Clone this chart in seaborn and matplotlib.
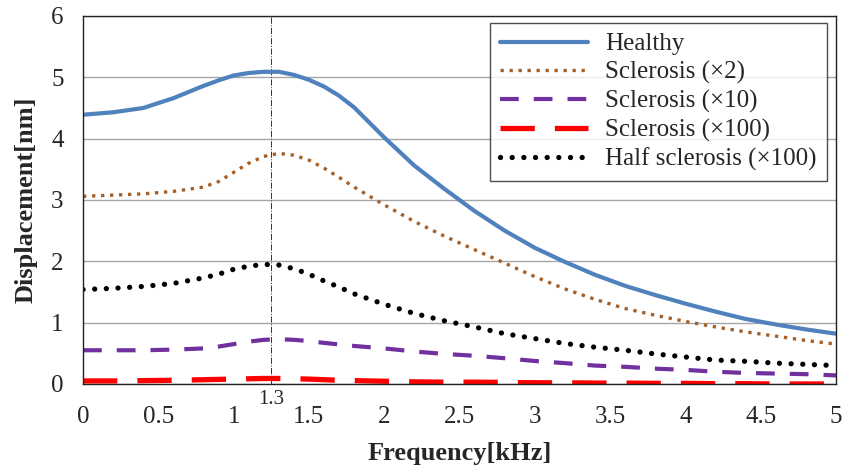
import numpy as np
import pandas as pd
import matplotlib
matplotlib.use("Agg")
import matplotlib.pyplot as plt
import seaborn as sns

# Frequency grid [kHz]
freq = [0.0, 0.2, 0.4, 0.6, 0.8, 0.9, 1.0, 1.1, 1.2, 1.3, 1.4, 1.5, 1.6, 1.7,
        1.8, 2.0, 2.2, 2.4, 2.6, 2.8, 3.0, 3.2, 3.4, 3.6, 3.8, 4.0, 4.2, 4.4,
        4.6, 4.8, 5.0]

# Displacement [nm]
healthy = [4.39, 4.43, 4.50, 4.66, 4.86, 4.95, 5.03, 5.07, 5.09, 5.09, 5.04,
           4.96, 4.85, 4.70, 4.51, 4.02, 3.56, 3.18, 2.82, 2.50, 2.22, 1.99,
           1.78, 1.60, 1.45, 1.31, 1.18, 1.06, 0.97, 0.89, 0.82]
scl_2 = [3.06, 3.08, 3.10, 3.14, 3.21, 3.30, 3.45, 3.60, 3.71, 3.76, 3.73,
         3.65, 3.52, 3.37, 3.21, 2.92, 2.65, 2.41, 2.19, 1.97, 1.75, 1.55,
         1.38, 1.23, 1.12, 1.02, 0.93, 0.85, 0.78, 0.71, 0.65]
scl_10 = [0.55, 0.55, 0.55, 0.56, 0.58, 0.61, 0.65, 0.69, 0.72, 0.73, 0.72,
          0.70, 0.67, 0.645, 0.62, 0.58, 0.53, 0.49, 0.46, 0.42, 0.375, 0.34,
          0.30, 0.28, 0.25, 0.23, 0.20, 0.18, 0.17, 0.16, 0.14]
scl_100 = [0.05, 0.05, 0.055, 0.06, 0.07, 0.075, 0.08, 0.085, 0.09, 0.09, 0.085,
           0.08, 0.07, 0.06, 0.055, 0.045, 0.035, 0.03, 0.03, 0.025, 0.02,
           0.02, 0.015, 0.015, 0.01, 0.01, 0.005, 0.005, 0.0, 0.0, 0.0]
half_scl = [1.54, 1.56, 1.59, 1.64, 1.73, 1.79, 1.87, 1.92, 1.95, 1.94, 1.88,
            1.79, 1.68, 1.58, 1.47, 1.30, 1.15, 1.03, 0.93, 0.82, 0.74, 0.66,
            0.60, 0.55, 0.49, 0.44, 0.39, 0.37, 0.34, 0.32, 0.30]

labels = ["Healthy", "Sclerosis (\u00d72)", "Sclerosis (\u00d710)",
          "Sclerosis (\u00d7100)", "Half sclerosis (\u00d7100)"]
series = [healthy, scl_2, scl_10, scl_100, half_scl]

peak_freq = 1.25
peak_label = "1.3"

x_ticks = [0, 0.5, 1, 1.5, 2, 2.5, 3, 3.5, 4, 4.5, 5]
x_ticklabels = ["0", "0.5", "1", "1.5", "2", "2.5", "3", "3.5", "4", "4.5", "5"]
y_ticks = [0, 1, 2, 3, 4, 5, 6]

sns.set_style("white")
plt.rcParams["font.family"] = ["Liberation Serif", "DejaVu Serif"]

styles = [
    dict(color="#4F81BD", lw=3.0, linestyle="-"),
    dict(color="#A5602A", lw=2.4, linestyle=(0, (1, 1.7))),
    dict(color="#7030A0", lw=3.0, linestyle=(0, (4.5, 3.6))),
    dict(color="#FF0000", lw=3.8, linestyle=(0, (6.5, 3.8))),
    dict(color="#000000", lw=3.8, linestyle=(0, (0.01, 2.2)),
         dash_capstyle="round"),
]

fig = plt.figure(figsize=(8.42, 4.70), dpi=100)
ax = fig.add_axes([0.0986, 0.183, 0.8943, 0.783])

for vals, lab, st in zip(series, labels, styles):
    sns.lineplot(x=freq, y=vals, label=lab, ax=ax, **st)

ax.axvline(peak_freq, color="#333333", lw=0.7, linestyle="-.", zorder=1)

ax.set_xlim(0, 5)
ax.set_ylim(0, 6)
ax.set_xticks(x_ticks)
ax.set_xticklabels(x_ticklabels)
ax.set_yticks(y_ticks)
ax.tick_params(axis="x", direction="in", length=5, width=1, labelsize=18, pad=16)
ax.tick_params(axis="y", length=0, labelsize=18, pad=14)
ax.yaxis.grid(True, color="#a6a6a6", lw=1)
for s in ax.spines.values():
    s.set_color("#222222")
    s.set_linewidth(1)

ax.annotate(peak_label, xy=(peak_freq, 0), xycoords=("data", "axes fraction"),
            xytext=(0, -4), textcoords="offset points", ha="center", va="top",
            fontsize=15)

ax.set_xlabel("Frequency[kHz]", fontsize=19, fontweight="bold", labelpad=10)
ax.set_ylabel("Displacement[nm]", fontsize=19, fontweight="bold", labelpad=10)

leg = ax.legend(loc="upper right", fontsize=18, frameon=True, fancybox=False,
                edgecolor="#222222", handlelength=3.5, borderpad=0.4,
                labelspacing=0.23, handletextpad=0.7, borderaxespad=0,
                bbox_to_anchor=(0.988, 0.981))
leg.get_frame().set_linewidth(1)

fig.savefig("out.png", dpi=100)
